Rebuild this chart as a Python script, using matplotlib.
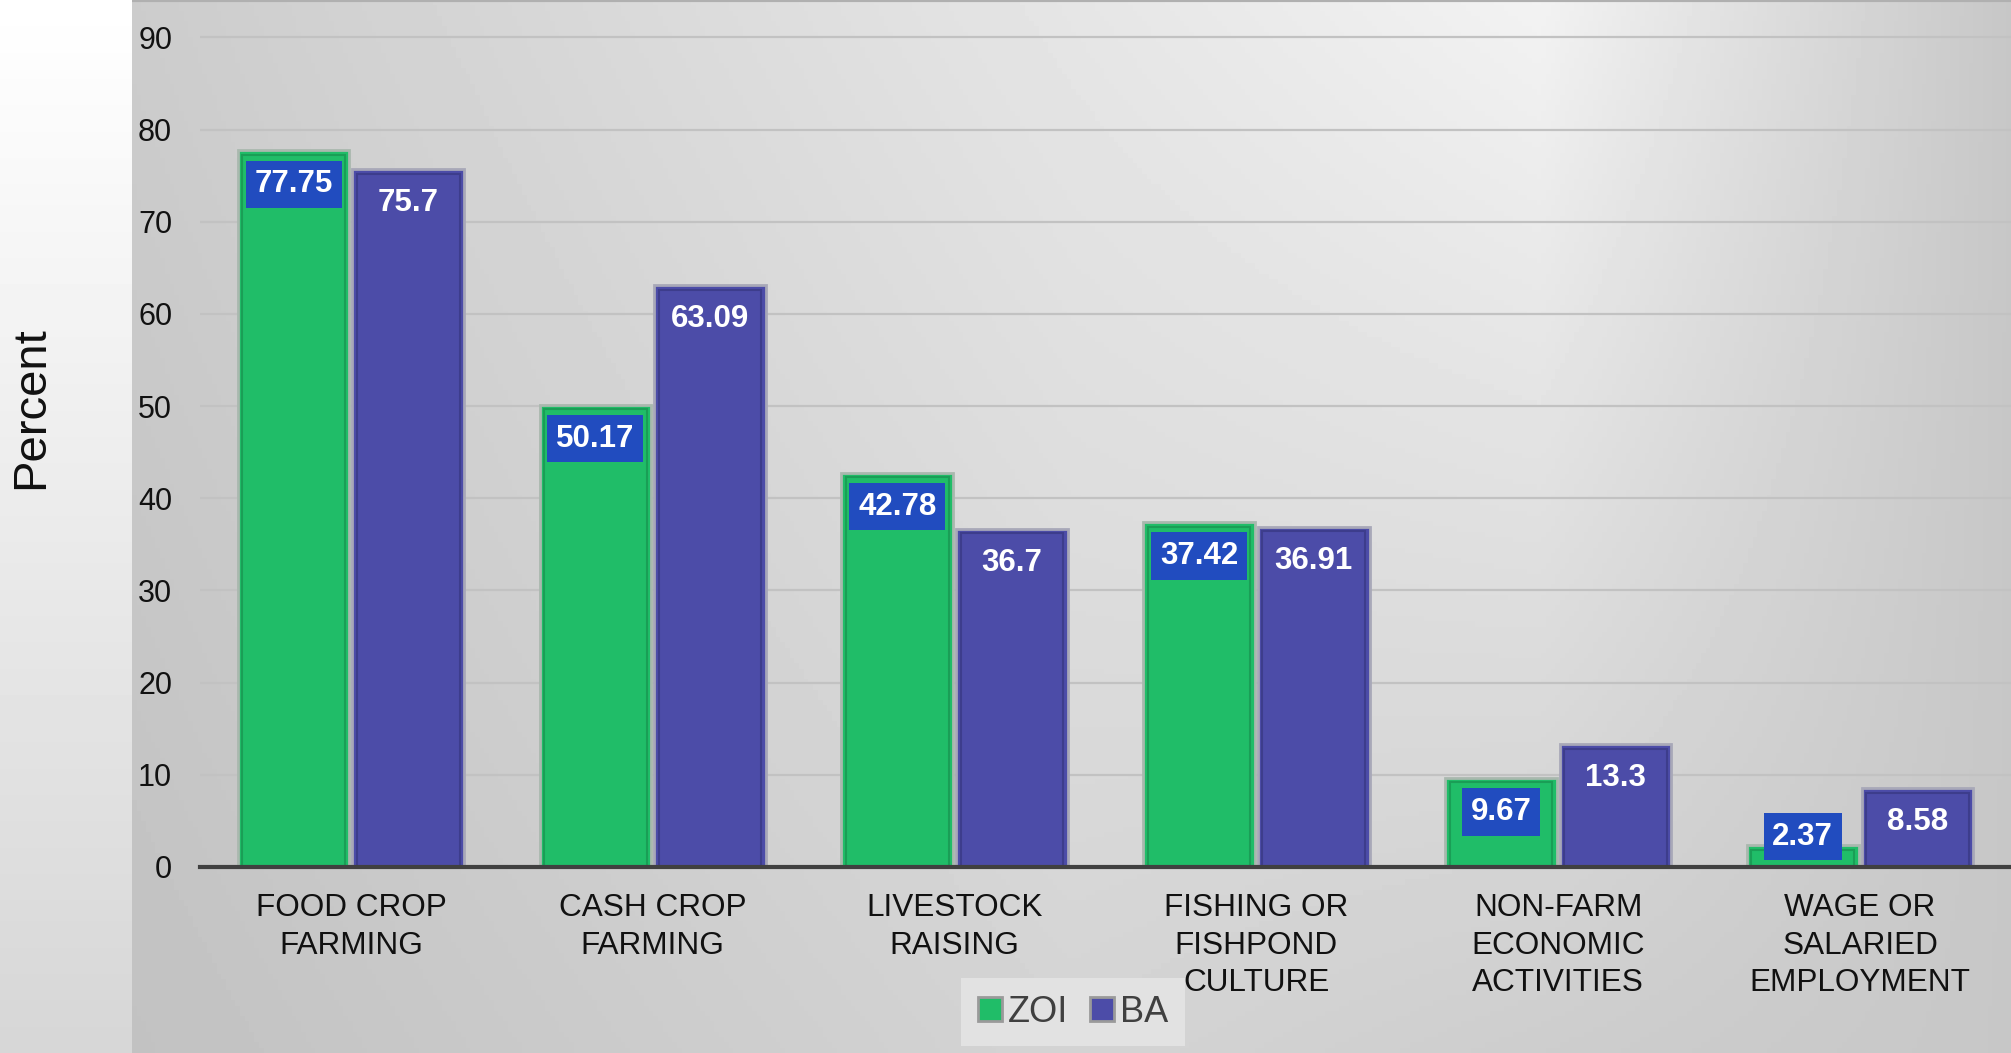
import numpy as np
import matplotlib
matplotlib.use("Agg")
import matplotlib.pyplot as plt
from matplotlib.patches import Patch

plt.rcParams['font.family'] = ['Liberation Sans', 'DejaVu Sans']

#%% Data
categories = ["FOOD CROP\nFARMING", "CASH CROP\nFARMING", "LIVESTOCK\nRAISING",
              "FISHING OR\nFISHPOND\nCULTURE", "NON-FARM\nECONOMIC\nACTIVITIES",
              "WAGE OR\nSALARIED\nEMPLOYMENT"]
zoi = [77.75, 50.17, 42.78, 37.42, 9.67, 2.37]
ba = [75.7, 63.09, 36.7, 36.91, 13.3, 8.58]
series_names = ["ZOI", "BA"]
yticks = [0, 10, 20, 30, 40, 50, 60, 70, 80, 90]

green = "#20bd68"
purple = "#4c4ca8"
green_dark = "#178a4b"
purple_dark = "#34347a"
box_blue = "#214cbf"

W, H = 2011, 1053
fig = plt.figure(figsize=(W / 100, H / 100), dpi=100)

#%% Backgrounds
left_w = 132 / W
lp = fig.add_axes([0, 0, left_w, 1], zorder=-2)
v = np.linspace(0, 1, 200)[:, None]
lp.imshow(np.repeat(1.0 - 0.16 * v, 2, axis=1), cmap="gray", vmin=0, vmax=1,
          aspect="auto", extent=[0, 1, 0, 1])
lp.axis("off")

bg = fig.add_axes([left_w, 0, 1 - left_w, 1], zorder=-2)
u = np.linspace(0, 1, 400)
l_top = np.interp(u, [0, 0.75, 1], [0.80, 0.95, 0.78])
l_bot = np.interp(u, [0, 0.5, 1], [0.76, 0.83, 0.78])
vv = np.linspace(0, 1, 200)[:, None]
shade = l_top[None, :] * (1 - vv) + l_bot[None, :] * vv
bg.imshow(shade, cmap="gray", vmin=0, vmax=1, aspect="auto", extent=[0, 1, 0, 1])
bg.axhline(1, color="#b0b0b0", lw=3)
bg.axis("off")

#%% Main axes
ax = fig.add_axes([200 / W, 1 - 867 / H, 1 - 200 / W, (867 - 19) / H])
ax.patch.set_alpha(0)
ax.set_xlim(-0.5, 5.5)
ax.set_ylim(0, 92)

x = np.arange(len(categories))
bw = 0.37
off = 0.19

ax.bar(x - off, zoi, bw, color=green, edgecolor="#a9b8ae", lw=2, zorder=3)
ax.bar(x + off, ba, bw, color=purple, edgecolor="#a8a8b8", lw=2, zorder=3)
# darker inner edge for a bevel look
ax.bar(x - off, np.array(zoi) - 0.5, bw - 0.03, facecolor="none",
       edgecolor=green_dark, lw=1.5, alpha=0.6, zorder=4)
ax.bar(x + off, np.array(ba) - 0.5, bw - 0.03, facecolor="none",
       edgecolor=purple_dark, lw=1.5, alpha=0.6, zorder=4)

ax.set_yticks(yticks)
ax.yaxis.grid(True, color="#c2c2c2", lw=1.6, zorder=0)
ax.set_axisbelow(True)
ax.tick_params(axis="y", length=0, pad=20, labelsize=22, labelcolor="#111111")
ax.set_xticks(x)
ax.set_xticklabels(categories, fontsize=22.7, linespacing=1.32)
ax.tick_params(axis="x", length=0, pad=19, labelcolor="#111111")
for s in ["top", "right", "left"]:
    ax.spines[s].set_visible(False)
ax.spines["bottom"].set_color("#404040")
ax.spines["bottom"].set_linewidth(3)
ax.spines["bottom"].set_zorder(5)

# value labels (inside end, kept above the axis for small bars)
px_per_unit = (867 - 19) / 92
drop = 34 / px_per_unit
lowest = 3.3
for xi, val in zip(x, zoi):
    ax.text(xi - off, max(val - drop, lowest), f"{val:g}", ha="center", va="center",
            color="white", fontsize=22.5, fontweight="bold", zorder=6,
            bbox=dict(boxstyle="square,pad=0.28", fc=box_blue, ec="none"))
for xi, val in zip(x, ba):
    ax.text(xi + off, max(val - drop, lowest), f"{val:g}", ha="center", va="center",
            color="white", fontsize=22.5, fontweight="bold", zorder=6)

fig.text(31 / W, 1 - 408 / H, "Percent", rotation=90, ha="center", va="center",
         fontsize=34, color="#111111")

handles = [Patch(facecolor=green, edgecolor="#9a9a9a", lw=2),
           Patch(facecolor=purple, edgecolor="#9a9a9a", lw=2)]
leg = fig.legend(handles, series_names, loc="center", bbox_to_anchor=(1073 / W, 1 - 1012 / H),
                 ncol=2, fontsize=26, frameon=True, fancybox=False, handlelength=0.67,
                 handleheight=0.67, handletextpad=0.17, columnspacing=0.6,
                 borderpad=0.45)
leg.get_frame().set_facecolor("#e2e2e2")
leg.get_frame().set_edgecolor("none")
leg.get_frame().set_alpha(1)
for t in leg.get_texts():
    t.set_color("#404040")

fig.savefig("out.png", dpi=100)
